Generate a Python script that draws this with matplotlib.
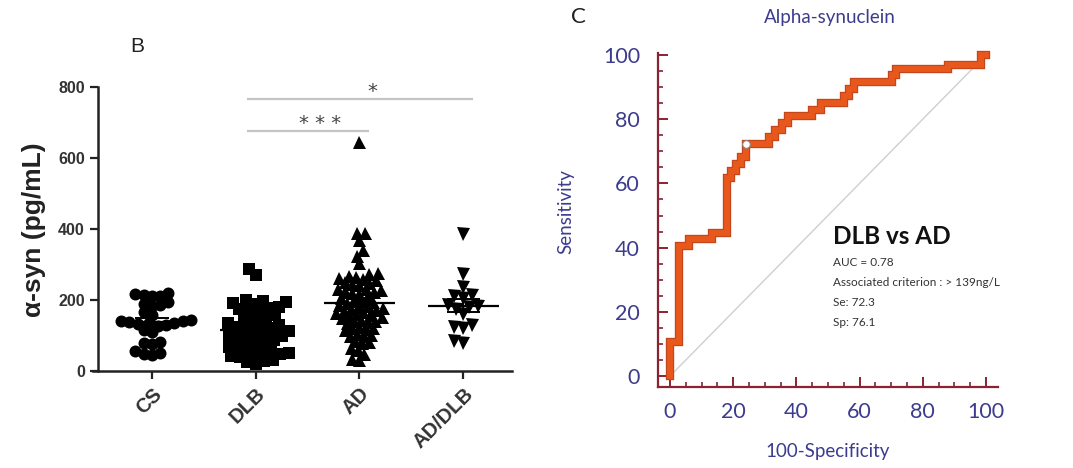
import numpy as np
import matplotlib
matplotlib.use("Agg")
import matplotlib.pyplot as plt
from matplotlib.ticker import MultipleLocator

# ---------------- data ----------------
groups = ["CS", "DLB", "AD", "AD/DLB"]

cs_vals = [220, 218, 215, 212, 210, 195, 190, 185, 182, 165, 158,
           145, 142, 140, 138, 136, 135, 132, 130, 128, 115, 110,
           82, 78, 75, 55, 52, 48, 45]
dlb_vals = [288, 270,
            200, 198, 195, 192, 190,
            180, 178, 175, 172, 170,
            158, 152, 148, 145,
            135, 132, 130, 128, 125, 122,
            112, 110, 108, 105, 102, 100,
            90, 88, 85, 82, 80,
            68, 65, 62, 60, 58,
            50, 48, 45, 42, 40,
            30, 28, 25, 20]
ad_vals = [645,
           390, 388, 368, 340, 325, 305,
           275, 272, 268, 265, 262, 260,
           255, 250, 248, 245, 242,
           232, 230, 228, 225, 222, 220, 218,
           210, 205, 200, 198, 195, 192,
           185, 182, 180, 178, 175, 172, 170,
           165, 162, 160, 158, 155, 152, 150,
           145, 142, 140, 138, 135,
           125, 122, 120, 118, 115,
           105, 102, 100, 98,
           85, 82, 78,
           65, 60,
           48, 35, 32]
addlb_vals = [385, 272, 238, 215, 210, 205, 185, 182, 180, 175,
              160, 130, 125, 120, 85, 80]

group_values = [cs_vals, dlb_vals, ad_vals, addlb_vals]
group_markers = ["o", "s", "^", "v"]

# significance brackets: (from group, to group, height, label, label x)
brackets = [(1, 3, 766, "*", 2.12), (1, 2, 676, "* * *", 1.62)]

# ROC curve corners (100-Specificity, Sensitivity), drawn as post steps
roc_fpr = [0, 0, 3.0, 6.0, 13.4, 17.9, 19.4, 20.9, 22.4, 23.9, 31.3, 33.3,
           35.3, 37.3, 44.8, 47.8, 55.2, 56.7, 58.2, 70.1, 71.6, 88.1, 98.5, 100]
roc_tpr = [0, 10.6, 40.4, 42.6, 44.7, 61.7, 63.8, 66.0, 68.1, 72.3, 74.5, 76.6,
           78.7, 80.9, 83.0, 85.1, 87.2, 89.4, 91.5, 93.6, 95.7, 97.0, 100, 100]
cut_fpr = 23.9
cut_tpr = 72.3
auc = 0.78
criterion = "> 139ng/L"
sens = 72.3
spec = 76.1

# ---------------- figure ----------------
W, H = 1073, 468
fig = plt.figure(figsize=(W / 100, H / 100), dpi=100)


def fx(px):
    return px / W


def fy(py):
    return 1 - py / H


# ---------- left panel: scatter dot plot ----------
axL = fig.add_axes([fx(98), fy(371), (512 - 98) / W, (371 - 87) / H])
xmin, xmax = -0.52, 3.47
ymin, ymax = 0, 800
axL.set_xlim(xmin, xmax)
axL.set_ylim(ymin, ymax)
px_x = (512 - 98) / (xmax - xmin)
px_y = (371 - 87) / (ymax - ymin)


def swarm(values, d):
    """Beeswarm offsets (data x units) keeping marker centres d px apart."""
    vals = np.asarray(values, float)
    order = np.argsort(vals)
    placed_x, placed_y = [], []
    offs = np.zeros(len(vals))
    for i in order:
        y = vals[i] * px_y
        cands = [0.0]
        for xj, yj in zip(placed_x, placed_y):
            dy = y - yj
            if abs(dy) < d:
                dx = np.sqrt(d * d - dy * dy)
                cands += [xj + dx, xj - dx]
        cands = sorted(cands, key=lambda c: (abs(c), c))
        c = cands[0]
        for c in cands:
            ok = True
            for xj, yj in zip(placed_x, placed_y):
                if (c - xj) ** 2 + (y - yj) ** 2 < d * d - 1e-6:
                    ok = False
                    break
            if ok:
                break
        placed_x.append(c)
        placed_y.append(y)
        offs[i] = c / px_x
    return offs


marker_px = {"o": 12.0, "s": 11.5, "^": 13.0, "v": 13.0}
spacing_px = {"o": 8.5, "s": 9.0, "^": 7.4, "v": 9.0}
for gi, (vals, mk) in enumerate(zip(group_values, group_markers)):
    offs = swarm(vals, spacing_px[mk])
    ms = marker_px[mk] * 0.72
    axL.plot(gi + offs, vals, linestyle="none", marker=mk, color="black",
             markersize=ms, markeredgewidth=0, zorder=3, clip_on=False)
    arr = np.asarray(vals, float)
    m = arr.mean()
    sem = arr.std(ddof=1) / np.sqrt(len(arr))
    axL.hlines(m, gi - 0.34, gi + 0.34, color="black", lw=1.6, zorder=4)
    axL.vlines(gi, m - sem, m + sem, color="black", lw=1.4, zorder=4)
    axL.hlines([m - sem, m + sem], gi - 0.16, gi + 0.16, color="black", lw=1.4, zorder=4)

for g0, g1, yv, lab, lx in brackets:
    axL.plot([g0 - 0.08, g1 + 0.09], [yv, yv], color="#c4c4c4", lw=1.6,
             solid_capstyle="butt", clip_on=False, zorder=2)
    axL.text(lx, yv + 20, lab, ha="center", va="center", fontsize=14,
             color="#444444", family="DejaVu Sans")

for s in ["top", "right"]:
    axL.spines[s].set_visible(False)
for s in ["left", "bottom"]:
    axL.spines[s].set_linewidth(1.8)
    axL.spines[s].set_color("#222222")
axL.spines["bottom"].set_bounds(xmin - 0.05, xmax)
axL.set_yticks([0, 200, 400, 600, 800])
axL.set_xticks(range(len(groups)))
axL.set_xticklabels(groups)
axL.tick_params(axis="both", direction="out", length=6, width=1.6, color="#222222")
for lab in axL.get_yticklabels():
    lab.set_fontfamily("Liberation Sans")
    lab.set_fontweight("bold")
    lab.set_fontsize(11.5)
    lab.set_color("#333333")
for lab in axL.get_xticklabels():
    lab.set_fontfamily("Liberation Sans")
    lab.set_fontweight("bold")
    lab.set_fontsize(14.5)
    lab.set_color("#333333")
    lab.set_rotation(45)
    lab.set_ha("right")
    lab.set_va("top")
    lab.set_rotation_mode("anchor")
axL.set_ylabel("α-syn (pg/mL)", fontsize=19, fontweight="bold",
               family="Liberation Sans", color="#222222")
axL.yaxis.set_label_coords(-0.125, 0.496)

fig.text(fx(137), fy(47), "B", fontsize=15, family="Liberation Sans",
         color="#222222", ha="center", va="center")

# ---------- right panel: ROC curve ----------
navy = "#3c3c8e"
maroon = "#8b2232"
orange = "#e8581c"
axR = fig.add_axes([fx(658), fy(387), (998 - 658) / W, (387 - 53) / H])
axR.set_xlim(-3.8, 103.8)
axR.set_ylim(-3.4, 100.6)

axR.plot([0, 100], [0, 100], color="#cfcfcf", lw=1.0, zorder=1)
axR.plot(roc_fpr, roc_tpr, drawstyle="steps-post", color="#c4461a", lw=6.0,
         solid_joinstyle="miter", solid_capstyle="projecting", zorder=2, clip_on=False)
axR.plot(roc_fpr, roc_tpr, drawstyle="steps-post", color=orange, lw=4.2,
         solid_joinstyle="miter", solid_capstyle="projecting", zorder=3, clip_on=False)
axR.plot([cut_fpr], [cut_tpr], marker="o", markersize=5.5, markerfacecolor="white",
         markeredgecolor="#888888", markeredgewidth=0.8, zorder=4, linestyle="none")

for s in ["top", "right"]:
    axR.spines[s].set_visible(False)
for s in ["left", "bottom"]:
    axR.spines[s].set_linewidth(1.6)
    axR.spines[s].set_color(maroon)
axR.xaxis.set_major_locator(MultipleLocator(20))
axR.xaxis.set_minor_locator(MultipleLocator(5))
axR.yaxis.set_major_locator(MultipleLocator(20))
axR.yaxis.set_minor_locator(MultipleLocator(5))
axR.tick_params(which="major", direction="in", length=7.5, width=1.4, color=maroon,
                labelsize=15.5, labelcolor=navy)
axR.tick_params(which="minor", direction="in", length=3.5, width=1.2, color=maroon)
axR.tick_params(axis="y", which="major", pad=13)
axR.tick_params(axis="x", which="major", pad=11)
for lab in axR.get_xticklabels() + axR.get_yticklabels():
    lab.set_fontfamily("Lato")

axR.set_ylabel("Sensitivity", fontsize=13.5, color=navy, family="Lato")
axR.yaxis.set_label_coords(-0.247, 0.524)
axR.set_xlabel("100-Specificity", fontsize=13.5, color=navy, family="Lato")
axR.xaxis.set_label_coords(0.5, -0.168)

fig.text(fx(830), fy(18), "Alpha-synuclein", fontsize=13.5, color=navy,
         family="Lato", ha="center", va="center")
fig.text(fx(578), fy(17), "C", fontsize=16, color="#222222", family="Lato",
         ha="center", va="center")

tx = (833 - 658) / 340
axR.text(tx, (387 - 237) / 334, "DLB vs AD", transform=axR.transAxes,
         fontsize=17.5, fontweight="bold", family="Lato", color="#111111",
         ha="left", va="center")
info_lines = [f"AUC = {auc:.2f}", f"Associated criterion : {criterion}",
              f"Se: {sens:.1f}", f"Sp: {spec:.1f}"]
for k, line in enumerate(info_lines):
    py = 263 + k * 20
    axR.text(tx, (387 - py) / 334, line, transform=axR.transAxes,
             fontsize=8.5, family="Lato", color="#333333", ha="left", va="center")

fig.savefig("out.png", dpi=100, facecolor="white")
